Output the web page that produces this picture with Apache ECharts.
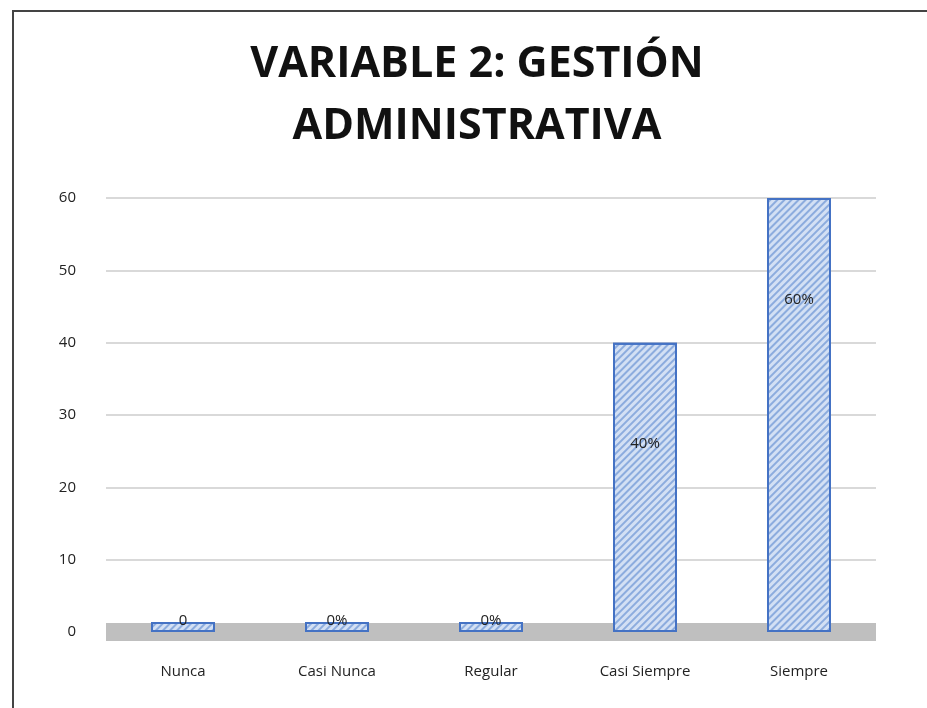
<!DOCTYPE html>
<html><head><meta charset="utf-8">
<script src="https://cdn.jsdelivr.net/npm/echarts@6/dist/echarts.min.js"></script>
<style>
html,body{margin:0;padding:0;background:#fff;}
#frame{position:absolute;left:12px;top:10px;width:940px;height:720px;border-left:2px solid #444;border-top:2px solid #444;}
#c{position:absolute;left:0;top:0;width:927px;height:708px;}
</style></head>
<body><div id="frame"></div><div id="c"></div>
<script>
const categories = ['Nunca','Casi Nunca','Regular','Casi Siempre','Siempre'];
const values = [0,0,0,40,60];
const valueLabels = ['0','0%','0%','40%','60%'];
const yTicks = [0,10,20,30,40,50,60];

const chart = echarts.init(document.getElementById('c'));
const decal = {symbol:'rect', symbolSize:1, dashArrayX:[1,0], dashArrayY:[2,3], rotation:-Math.PI/4, color:'rgba(70,120,200,0.5)'};
const data = values.map((v,i)=>{
  const item = {value:v, label:{formatter:valueLabels[i]}};
  if(v===0){ item.label.position='top'; item.label.distance=-6; }
  return item;
});
chart.setOption({
  backgroundColor:'transparent',
  title:{text:'VARIABLE 2: GESTIÓN\nADMINISTRATIVA', left:472, top:29, textAlign:'center',
    textStyle:{fontFamily:'Open Sans', fontWeight:'bold', fontSize:43, lineHeight:62, color:'#111'}},
  grid:{left:106, right:51, top:198, bottom:76},
  xAxis:{type:'category', data:categories,
    axisLine:{show:true, lineStyle:{color:'#bfbfbf', width:18, cap:'butt'}},
    axisTick:{show:false},
    axisLabel:{color:'#222', fontFamily:'Open Sans', fontSize:15, margin:32}},
  yAxis:{type:'value', min:0, max:60, interval:10,
    axisLabel:{color:'#222', fontFamily:'Open Sans', fontSize:15, margin:30,
      formatter:v=>yTicks.includes(v)?String(v):''},
    splitLine:{lineStyle:{color:'#d9d9d9', width:2}},
    axisLine:{show:false}, axisTick:{show:false}},
  series:[{type:'bar', data:data, barWidth:64, barMinHeight:10,
    itemStyle:{color:'#d3e0f4', borderColor:'#4472c4', borderWidth:2, decal:decal},
    label:{show:true, position:'insideTop', distance:94, color:'#222', fontFamily:'Open Sans', fontSize:15}
  }]
});
</script></body></html>
